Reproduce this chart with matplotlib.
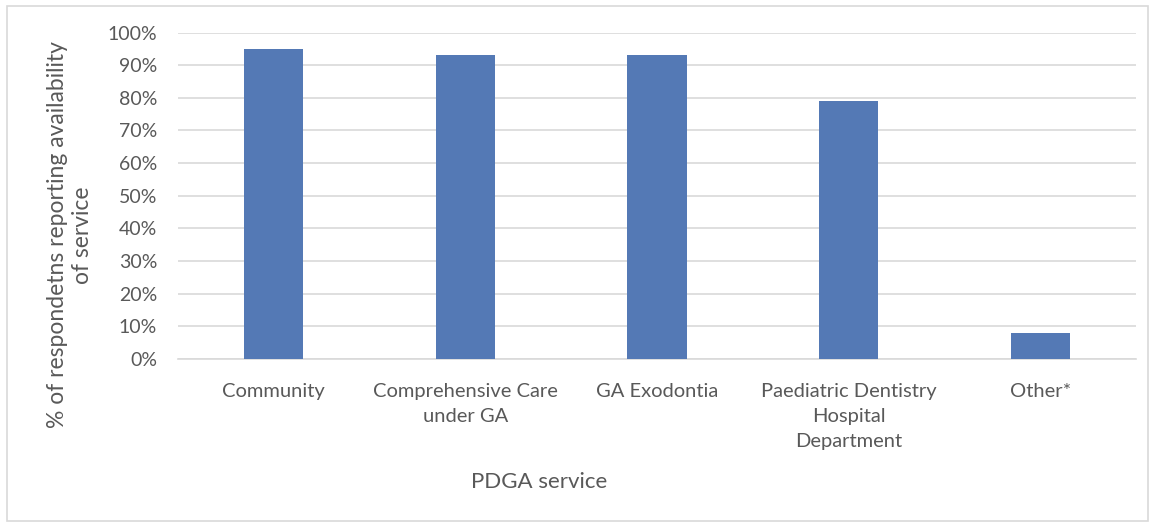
import matplotlib
matplotlib.use('Agg')
import matplotlib.pyplot as plt
from matplotlib.patches import Rectangle
from matplotlib.ticker import PercentFormatter

categories = ['Community', 'Comprehensive Care\nunder GA', 'GA Exodontia',
              'Paediatric Dentistry\nHospital\nDepartment', 'Other*']
values = [95, 93, 93, 79, 8]
yticks = [0, 10, 20, 30, 40, 50, 60, 70, 80, 90, 100]

plt.rcParams['font.family'] = ['Lato', 'DejaVu Sans']
text_col = '#595959'

fig = plt.figure(figsize=(11.55, 5.27), dpi=100)
ax = fig.add_axes([178/1155, 1 - 359/527, (1136 - 178)/1155, (359 - 32.5)/527])

x = range(len(categories))
ax.bar(x, values, width=0.31, color='#5479b5', zorder=3)

ax.set_xlim(-0.5, len(categories) - 0.5)
ax.set_ylim(0, 100)
ax.set_yticks(yticks)
ax.yaxis.set_major_formatter(PercentFormatter(decimals=0))
ax.set_xticks(list(x))
ax.set_xticklabels(categories, linespacing=1.6)
ax.grid(axis='y', color='#d9d9d9', linewidth=1.2, zorder=0)
for s in ['top', 'right', 'left']:
    ax.spines[s].set_visible(False)
ax.spines['bottom'].set_color('#d9d9d9')
ax.spines['bottom'].set_linewidth(1.2)
ax.tick_params(axis='both', length=0, colors=text_col)
ax.tick_params(axis='y', pad=15, labelsize=14)
ax.tick_params(axis='x', pad=17, labelsize=14.5)

fig.text(70/1155, 1 - 235/527, '% of respondetns reporting availability\nof service',
         rotation=90, ha='center', va='center', multialignment='center',
         fontsize=16.5, color=text_col, linespacing=1.25)
fig.text(539/1155, 1 - 482/527, 'PDGA service', ha='center', va='center',
         fontsize=16, color=text_col)

fig.patches.append(Rectangle((7/1155, 6/527), 1141/1155, 515/527, transform=fig.transFigure,
                             fill=False, edgecolor='#d9d9d9', linewidth=1.2))

fig.savefig('out.png', dpi=100)
